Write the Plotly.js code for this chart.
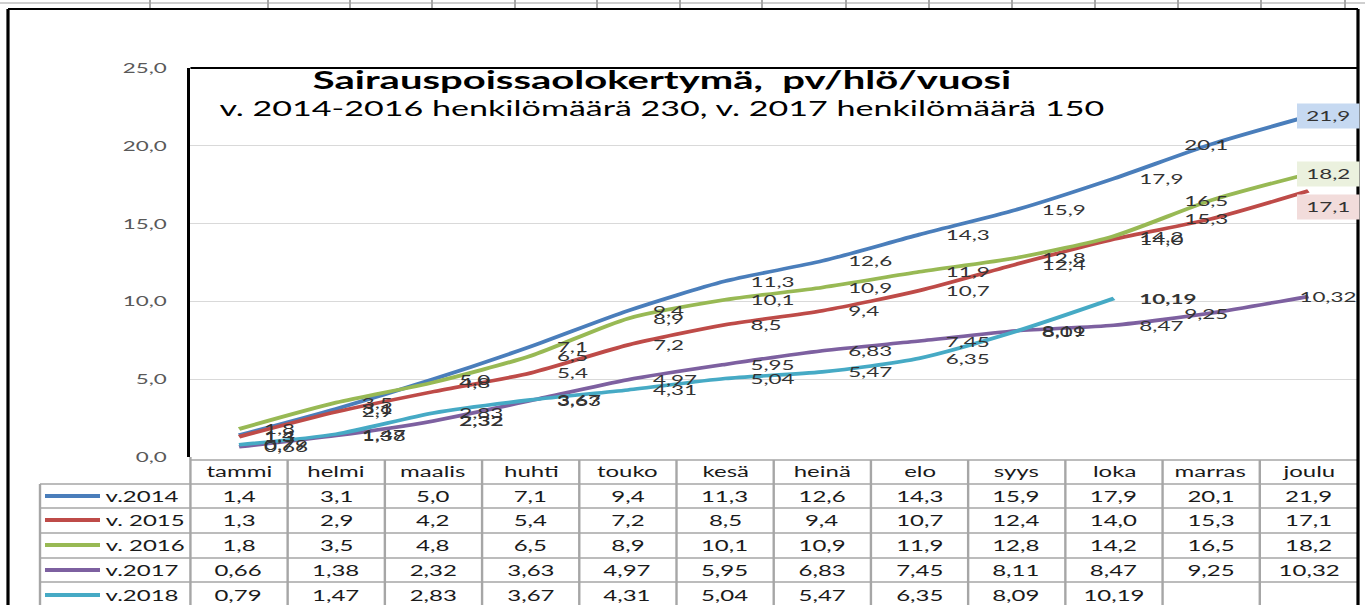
<!DOCTYPE html>
<html><head><meta charset="utf-8">
<script src="https://cdn.plot.ly/plotly-3.0.1.min.js"></script>
<style>
html,body{margin:0;padding:0;background:#fff;overflow:hidden;width:1365px;height:605px;}
#chart{width:853px;height:605px;transform:scaleX(1.600234);transform-origin:0 0;}
</style></head><body><div id="chart"></div>
<script>
// ---- data ----
const months = ['tammi','helmi','maalis','huhti','touko','kesä','heinä','elo','syys','loka','marras','joulu'];
const seriesNames = ['v.2014','v. 2015','v. 2016','v.2017','v.2018'];
const v2014 = [1.4,3.1,5.0,7.1,9.4,11.3,12.6,14.3,15.9,17.9,20.1,21.9];
const v2015 = [1.3,2.9,4.2,5.4,7.2,8.5,9.4,10.7,12.4,14.0,15.3,17.1];
const v2016 = [1.8,3.5,4.8,6.5,8.9,10.1,10.9,11.9,12.8,14.2,16.5,18.2];
const v2017 = [0.66,1.38,2.32,3.63,4.97,5.95,6.83,7.45,8.11,8.47,9.25,10.32];
const v2018 = [0.79,1.47,2.83,3.67,4.31,5.04,5.47,6.35,8.09,10.19];
const decimals = [1,1,1,2,2];
const yTicks = [0,5,10,15,20,25];
const titleText = 'Sairauspoissaolokertymä,&nbsp; pv/hlö/vuosi';
const subtitleText = 'v. 2014-2016 henkilömäärä 230, v. 2017 henkilömäärä 150';

// ---- styling / geometry ----
const allSeries = [v2014, v2015, v2016, v2017, v2018];
const colors = ['#4A7EBB','#BE4B48','#98B954','#7D60A0','#46AAC5'];
const boxColors = ['#C6D9F1','#F2DCDB','#EBF1DE', null, null];
const FONT = 'Lato, "Open Sans", sans-serif';
const W = 853, H = 605, S = 1365 / W;
const L = 119, R = 5, T = 68, B = 148;
const PW = W - L - R, PH = H - T - B;
const xp = X => (X / S - L) / PW;          // stretched pixel -> paper x
const yp = Y => (T + PH - Y) / PH;         // pixel -> paper y
const fmt = (v, d) => v.toFixed(d).replace('.', ',');
const boldKeys = {'3-2': true, '4-9': true};
const hiddenKeys = {'1-2': true};          // label not shown in the original chart

const traces = allSeries.map((vals, s) => ({
  type: 'scatter', mode: 'lines', name: seriesNames[s],
  x: months.slice(0, vals.length), y: vals,
  line: {color: colors[s], width: 3.6, shape: 'spline', smoothing: 0.7},
  showlegend: false, hoverinfo: 'skip'
}));

const annotations = [];
// data labels
allSeries.forEach((vals, s) => {
  vals.forEach((v, i) => {
    if (hiddenKeys[s + '-' + i]) return;
    let txt = fmt(v, decimals[s]);
    if (boldKeys[s + '-' + i]) txt = '<b>' + txt + '</b>';
    const a = {xref: 'x', yref: 'y', x: months[i], y: v, text: txt, showarrow: false,
      font: {family: FONT, size: 14, color: '#333333'}, xanchor: 'left', yanchor: 'middle', xshift: 14};
    if (i === 10) { a.xshift = -19; }
    if (i === 11) {
      a.xanchor = 'center'; a.xshift = 12;
      if (boxColors[s]) { a.bgcolor = boxColors[s]; a.width = 34; a.height = 20; a.borderpad = 2; }
      if (s === 1) a.yshift = -16;
    }
    annotations.push(a);
  });
});
// subtitle
annotations.push({xref: 'paper', yref: 'paper', x: xp(662), y: yp(108), text: subtitleText,
  showarrow: false, xanchor: 'center', yanchor: 'middle', font: {family: FONT, size: 21.3, color: '#000'}});
// table header
const rowCenters = [496, 520, 545, 570, 595];
months.forEach(m => annotations.push({xref: 'x', yref: 'paper', x: m, y: yp(471), text: m,
  showarrow: false, xanchor: 'center', yanchor: 'middle', font: {family: FONT, size: 15, color: '#1a1a1a'}}));
// table body
allSeries.forEach((vals, s) => {
  annotations.push({xref: 'paper', yref: 'paper', x: xp(103), y: yp(rowCenters[s]), text: seriesNames[s],
    showarrow: false, xanchor: 'left', yanchor: 'middle', font: {family: FONT, size: 15, color: '#1a1a1a'}});
  vals.forEach((v, i) => annotations.push({xref: 'x', yref: 'paper', x: months[i], y: yp(rowCenters[s]),
    text: fmt(v, decimals[s]), showarrow: false, xanchor: 'center', yanchor: 'middle',
    font: {family: FONT, size: 15, color: '#1a1a1a'}}));
});

const shapes = [];
const gridC = '#A6A6A6';
// table horizontal lines
[460, 484, 508, 533, 558, 582].forEach((Y, k) => shapes.push({type: 'line', xref: 'paper', yref: 'paper',
  x0: k === 0 ? 0 : xp(40), x1: 1, y0: yp(Y), y1: yp(Y), line: {color: gridC, width: 1.5}}));
// table vertical lines
shapes.push({type: 'line', xref: 'paper', yref: 'paper', x0: xp(40), x1: xp(40), y0: yp(484), y1: yp(610), line: {color: gridC, width: 1.5}});
for (let i = 1; i < months.length; i++) {
  shapes.push({type: 'line', xref: 'x', yref: 'paper', x0: i - 0.5, x1: i - 0.5, y0: yp(460), y1: yp(610), line: {color: gridC, width: 1.5}});
}
shapes.push({type: 'line', xref: 'paper', yref: 'paper', x0: 0, x1: 0, y0: yp(457), y1: yp(610), line: {color: gridC, width: 1.5}});
// legend keys
allSeries.forEach((vals, s) => shapes.push({type: 'line', xref: 'paper', yref: 'paper',
  x0: xp(45), x1: xp(100), y0: yp(rowCenters[s]), y1: yp(rowCenters[s]), line: {color: colors[s], width: 4}}));
// plot area top border
shapes.push({type: 'line', xref: 'paper', yref: 'paper', x0: 0, x1: 1, y0: 1, y1: 1, line: {color: '#000', width: 2}});
// outer chart frame
shapes.push({type: 'line', xref: 'paper', yref: 'paper', x0: xp(8), x1: xp(1358), y0: yp(9), y1: yp(9), line: {color: '#000', width: 2}});
shapes.push({type: 'line', xref: 'paper', yref: 'paper', x0: xp(8), x1: xp(8), y0: yp(9), y1: yp(610), line: {color: '#000', width: 2}});
shapes.push({type: 'line', xref: 'paper', yref: 'paper', x0: xp(1358), x1: xp(1358), y0: yp(9), y1: yp(610), line: {color: '#000', width: 2}});
// spreadsheet cell grid above the chart
shapes.push({type: 'line', xref: 'paper', yref: 'paper', x0: xp(0), x1: xp(1365), y0: yp(3), y1: yp(3), line: {color: '#BFBFBF', width: 1.5}});
[150, 268, 350, 432, 515, 597, 680, 762, 846, 929, 1012, 1095, 1178, 1261, 1345].forEach(X =>
  shapes.push({type: 'line', xref: 'paper', yref: 'paper', x0: xp(X), x1: xp(X), y0: yp(0), y1: yp(8), line: {color: '#A6A6A6', width: 1.2}}));

const layout = {
  width: W, height: H,
  margin: {l: L, r: R, t: T, b: B, pad: 0},
  paper_bgcolor: '#fff', plot_bgcolor: '#fff',
  separators: ', ',
  font: {family: FONT},
  hovermode: false,
  title: {text: '<b>' + titleText + '</b>', xref: 'container', yref: 'container',
    x: (662 / S) / W, xanchor: 'center', y: 1 - 80 / H, yanchor: 'middle',
    font: {family: FONT, size: 25, color: '#000'}},
  xaxis: {type: 'category', range: [-0.5, 11.5], showticklabels: false, showgrid: false,
    zeroline: false, showline: false, ticks: '', fixedrange: true},
  yaxis: {range: [0, 25], tickvals: yTicks, tickformat: '.1f', showgrid: true, gridcolor: '#D9D9D9',
    gridwidth: 1, zeroline: false, showline: true, linecolor: '#000', linewidth: 2, ticks: '',
    ticklabelstandoff: 10, tickfont: {family: FONT, size: 14, color: '#595959'}, fixedrange: true},
  shapes: shapes,
  annotations: annotations
};
Plotly.newPlot('chart', traces, layout, {displayModeBar: false, staticPlot: true});
</script></body></html>
